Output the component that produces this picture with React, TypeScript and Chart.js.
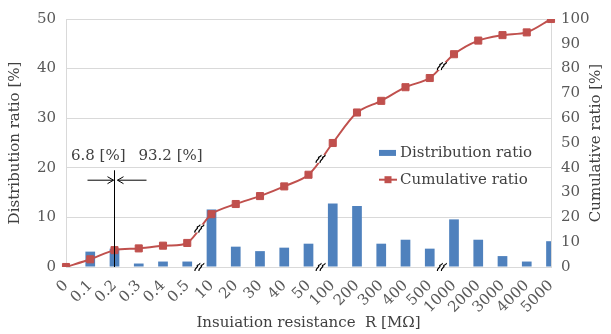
import React, { useEffect, useRef } from "react";
import { Chart, registerables } from "chart.js";

Chart.register(...registerables);

const categories = ["0", "0.1", "0.2", "0.3", "0.4", "0.5", "10", "20", "30", "40", "50", "100", "200", "300", "400", "500", "1000", "2000", "3000", "4000", "5000"];
const distribution = [0, 3.1, 3.7, 0.7, 1.1, 1.1, 11.6, 4.1, 3.2, 3.9, 4.7, 12.8, 12.3, 4.7, 5.5, 3.7, 9.6, 5.5, 2.2, 1.1, 5.2];
const cumulative = [0, 3.1, 6.8, 7.5, 8.6, 9.7, 21.3, 25.4, 28.6, 32.5, 37.2, 50.0, 62.3, 67.0, 72.5, 76.2, 85.8, 91.3, 93.5, 94.6, 100];
const breakAfter = [5, 10, 15];
const splitIndex = 2;
const splitLabels = ["6.8 [%]", "93.2 [%]"];
const seriesNames = ["Distribution ratio", "Cumulative ratio"];
const axisTitles = ["Insuiation resistance  R [MΩ]", "Distribution ratio [%]", "Cumulative ratio [%]"];

const FONT = "'DejaVu Serif', serif";
const FS = 15;
const BLUE = "#4F81BD";
const RED = "#C0504D";
const TEXT = "#404040";
const TICK = "#595959";
const GRID = "#D9D9D9";

function drawBreak(ctx: CanvasRenderingContext2D, cx: number, cy: number) {
  ctx.save();
  ctx.translate(cx, cy);
  ctx.fillStyle = "#ffffff";
  ctx.beginPath();
  ctx.moveTo(-4, 4);
  ctx.lineTo(0, -4);
  ctx.lineTo(4, -4);
  ctx.lineTo(0, 4);
  ctx.closePath();
  ctx.fill();
  ctx.strokeStyle = "#000000";
  ctx.lineWidth = 1.2;
  for (const dx of [-2, 2]) {
    ctx.beginPath();
    ctx.moveTo(dx - 2.5, 4);
    ctx.bezierCurveTo(dx - 3, 1, dx + 1, 0, dx, -1);
    ctx.bezierCurveTo(dx - 1, -2, dx + 3, -2, dx + 2.5, -4);
    ctx.stroke();
  }
  ctx.restore();
}

const overlay = {
  id: "overlay",
  afterDraw(chart: any) {
    const { ctx, chartArea, scales } = chart;
    const x = scales.x, y = scales.y, y1 = scales.y1;
    ctx.save();
    for (const i of breakAfter) {
      const mx = (x.getPixelForValue(i) + x.getPixelForValue(i + 1)) / 2;
      drawBreak(ctx, mx, chartArea.bottom);
      const my = y1.getPixelForValue((cumulative[i] + cumulative[i + 1]) / 2);
      drawBreak(ctx, mx, my);
    }
    const sx = x.getPixelForValue(splitIndex);
    ctx.strokeStyle = "#000000";
    ctx.lineWidth = 1;
    ctx.beginPath();
    ctx.moveTo(sx, y.getPixelForValue(19.5));
    ctx.lineTo(sx, chartArea.bottom);
    ctx.stroke();
    const ay = y.getPixelForValue(17.5);
    const arrow = (from: number, to: number) => {
      ctx.beginPath();
      ctx.moveTo(from, ay);
      ctx.lineTo(to, ay);
      const d = Math.sign(to - from);
      ctx.moveTo(to - d * 6, ay - 3.5);
      ctx.lineTo(to, ay);
      ctx.lineTo(to - d * 6, ay + 3.5);
      ctx.stroke();
    };
    arrow(sx - 27, sx - 1);
    arrow(sx + 32, sx + 3);
    ctx.font = `${FS}px ${FONT}`;
    ctx.fillStyle = TEXT;
    ctx.textBaseline = "middle";
    const ty = y.getPixelForValue(22.4);
    ctx.textAlign = "right";
    ctx.fillText(splitLabels[0], sx + 11, ty);
    ctx.textAlign = "left";
    ctx.fillText(splitLabels[1], sx + 24, ty);
    const lx = chartArea.right - 172;
    const ly1 = y.getPixelForValue(23);
    const ly2 = y.getPixelForValue(17.6);
    ctx.fillStyle = BLUE;
    ctx.fillRect(lx, ly1 - 3, 17, 6);
    ctx.strokeStyle = RED;
    ctx.lineWidth = 2;
    ctx.beginPath();
    ctx.moveTo(lx, ly2);
    ctx.lineTo(lx + 18, ly2);
    ctx.stroke();
    ctx.fillStyle = RED;
    ctx.fillRect(lx + 9 - 3.5, ly2 - 3.5, 7, 7);
    ctx.fillStyle = TEXT;
    ctx.textAlign = "left";
    ctx.fillText(seriesNames[0], lx + 21, ly1);
    ctx.fillText(seriesNames[1], lx + 21, ly2);
    ctx.save();
    ctx.translate(chart.width - 15, (chartArea.top + chartArea.bottom) / 2);
    ctx.rotate(-Math.PI / 2);
    ctx.textAlign = "center";
    ctx.fillText(axisTitles[2], 0, 0);
    ctx.restore();
    ctx.restore();
  },
};

export default function App() {
  const ref = useRef<HTMLCanvasElement>(null);
  useEffect(() => {
    document.body.style.margin = "0";
    const chart = new Chart(ref.current as HTMLCanvasElement, {
      type: "bar",
      data: {
        labels: categories,
        datasets: [
          {
            type: "line",
            label: seriesNames[1],
            data: cumulative,
            yAxisID: "y1",
            borderColor: RED,
            backgroundColor: RED,
            borderWidth: 2,
            pointStyle: "rect",
            pointRadius: 5,
            pointBorderWidth: 1,
            pointBorderColor: RED,
            pointBackgroundColor: RED,
            tension: 0.3,
            order: 1,
          },
          {
            type: "bar",
            label: seriesNames[0],
            data: distribution,
            yAxisID: "y",
            backgroundColor: BLUE,
            borderWidth: 0,
            barPercentage: 0.4,
            categoryPercentage: 1,
            order: 2,
          },
        ],
      },
      options: {
        responsive: false,
        animation: false,
        layout: { padding: { top: 16, left: 0, right: 0, bottom: 0 } },
        plugins: { legend: { display: false }, tooltip: { enabled: false } },
        scales: {
          x: {
            type: "category",
            offset: false,
            grid: { display: false },
            border: { color: GRID },
            ticks: { maxRotation: 45, minRotation: 45, autoSkip: false, color: TICK, font: { family: FONT, size: FS }, padding: 2 },
            title: { display: true, text: axisTitles[0], color: TEXT, font: { family: FONT, size: FS }, padding: { top: 0, bottom: 2 } },
            afterFit(s: any) { s.height = 67; },
          },
          y: {
            position: "left",
            min: 0,
            max: 50,
            ticks: { stepSize: 10, color: TICK, font: { family: FONT, size: FS }, padding: 10 },
            grid: { color: GRID, drawTicks: false },
            border: { color: GRID },
            title: { display: true, text: axisTitles[1], color: TEXT, font: { family: FONT, size: FS }, padding: { top: 6, bottom: 0 } },
            afterFit(s: any) { s.width = 66; },
          },
          y1: {
            position: "right",
            min: 0,
            max: 100,
            ticks: { stepSize: 10, color: TICK, font: { family: FONT, size: FS }, padding: 10 },
            grid: { display: false, drawTicks: false },
            border: { color: GRID },
            afterFit(s: any) { s.width = 60; },
          },
        },
      },
      plugins: [overlay],
    } as any);
    return () => chart.destroy();
  }, []);
  return <canvas ref={ref} width={611} height={334} />;
}
